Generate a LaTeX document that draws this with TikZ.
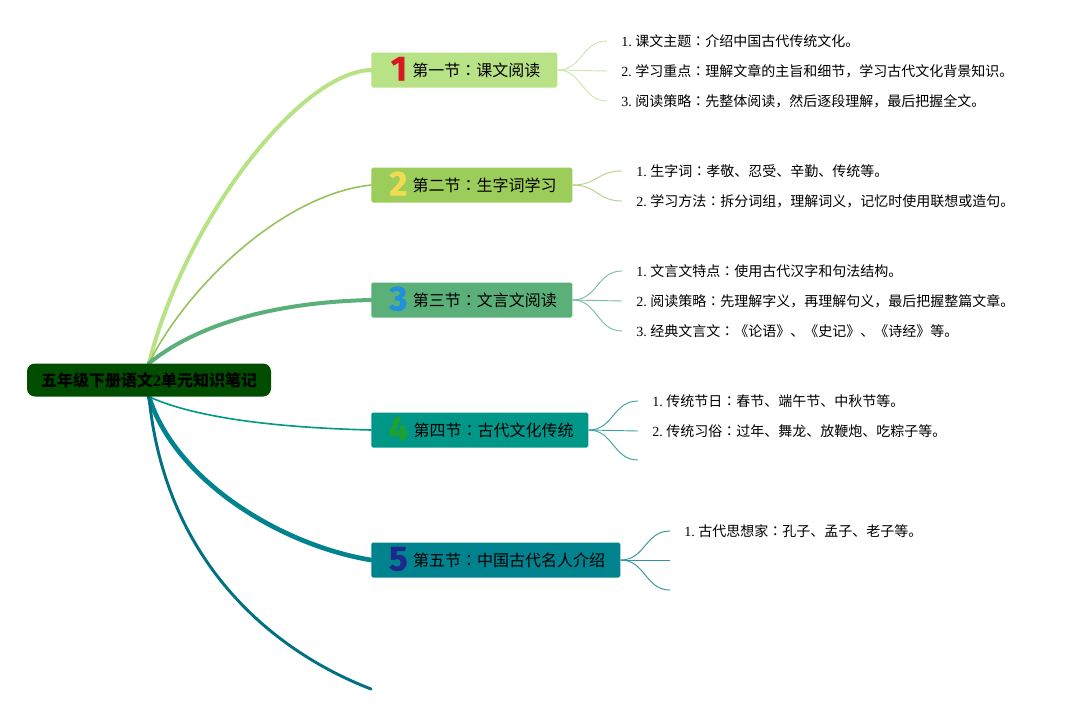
\documentclass[tikz,border=0pt]{standalone}
\usepackage{fontspec}
\usepackage{tikz}
\usetikzlibrary{backgrounds}
\setmainfont{Liberation Serif}
\newfontfamily\cjk{Noto Sans CJK SC}
\newfontfamily\cjktc{Noto Sans CJK TC}
\newfontfamily\numfont{Fira Sans}[BoldFeatures={FakeBold=1}]

\definecolor{rootgreen}{RGB}{0,77,0}
\definecolor{sec1}{RGB}{184,226,134}
\definecolor{sec2}{RGB}{156,204,90}
\definecolor{sec3}{RGB}{90,176,120}
\definecolor{sec4}{RGB}{0,150,136}
\definecolor{sec5}{RGB}{0,131,143}
\definecolor{tailc}{RGB}{0,112,130}
\definecolor{limb2}{RGB}{150,195,90}
\definecolor{tw1}{RGB}{205,230,170}
\definecolor{tw2}{RGB}{180,210,130}
\definecolor{tw3}{RGB}{120,190,160}
\definecolor{tw4}{RGB}{60,160,165}
\definecolor{tw5}{RGB}{50,145,160}
\definecolor{num1}{RGB}{215,25,35}
\definecolor{num2}{RGB}{240,220,80}
\definecolor{num3}{RGB}{30,144,220}
\definecolor{num4}{RGB}{30,160,50}
\definecolor{num5}{RGB}{30,40,140}

\newcommand{\secnum}[2]{\hspace{2pt}\smash{\raisebox{-3.2pt}{\numfont\bfseries\fontsize{26}{26}\selectfont\color{#1}#2}}\hspace{4pt}}
\newcommand{\zhcolon}{{\cjktc ：}}
\newcommand{\notepoint}[2]{#1.\ {\cjk #2}}

\tikzset{
  rootbox/.style={fill=rootgreen, rounded corners=6pt, minimum width=183pt, minimum height=24.75pt, inner sep=0pt, font=\fontsize{12}{14}\selectfont\bfseries},
  secbox/.style={anchor=west, rounded corners=1.2pt, minimum height=26.25pt, inner sep=0pt, font=\cjk\fontsize{12}{14}\selectfont},
  note/.style={anchor=west, inner xsep=10.5pt, inner ysep=0pt, font=\fontsize{10.5}{12}\selectfont},
  limb/.style={line cap=round},
  twig/.style={line width=0.7pt},
}

\begin{document}
\begin{tikzpicture}[x=0.75pt,y=0.75pt,yscale=-1,xscale=1]
\useasboundingbox (0,0) rectangle (1075,715);

% Root
\node [rootbox] (root) at (149,380) {{\cjk 五年级下册语文}2{\cjk 单元知识笔记}};

% Sections
\node [secbox, fill=sec1, minimum width=139.5pt] (s1) at (371,70) {\secnum{num1}{1}第一节\zhcolon 课文阅读};
\node [secbox, fill=sec2, minimum width=150.75pt] (s2) at (371,185) {\secnum{num2}{2}第二节\zhcolon 生字词学习};
\node [secbox, fill=sec3, minimum width=150.75pt] (s3) at (371,300) {\secnum{num3}{3}第三节\zhcolon 文言文阅读};
\node [secbox, fill=sec4, minimum width=162.75pt] (s4) at (371,430) {\secnum{num4}{4}第四节\zhcolon 古代文化传统};
\node [secbox, fill=sec5, minimum width=186.75pt] (s5) at (371,560) {\secnum{num5}{5}第五节\zhcolon 中国古代名人介绍};
\coordinate (tail) at (371,689);

% Notes
\node [note] (n11) at (607,41) {\notepoint{1}{课文主题\zhcolon 介绍中国古代传统文化。}};
\node [note] (n12) at (607,71) {\notepoint{2}{学习重点\zhcolon 理解文章的主旨和细节，学习古代文化背景知识。}};
\node [note] (n13) at (607,101) {\notepoint{3}{阅读策略\zhcolon 先整体阅读，然后逐段理解，最后把握全文。}};

\node [note] (n21) at (622,171) {\notepoint{1}{生字词\zhcolon 孝敬、忍受、辛勤、传统等。}};
\node [note] (n22) at (622,201) {\notepoint{2}{学习方法\zhcolon 拆分词组，理解词义，记忆时使用联想或造句。}};

\node [note] (n31) at (622,271) {\notepoint{1}{文言文特点\zhcolon 使用古代汉字和句法结构。}};
\node [note] (n32) at (622,301) {\notepoint{2}{阅读策略\zhcolon 先理解字义，再理解句义，最后把握整篇文章。}};
\node [note] (n33) at (622,331) {\notepoint{3}{经典文言文\zhcolon 《论语》、《史记》、《诗经》等。}};

\node [note] (n41) at (638,401) {\notepoint{1}{传统节日\zhcolon 春节、端午节、中秋节等。}};
\node [note] (n42) at (638,431) {\notepoint{2}{传统习俗\zhcolon 过年、舞龙、放鞭炮、吃粽子等。}};
\coordinate (n43) at (638,460);

\node [note] (n51) at (670,531) {\notepoint{1}{古代思想家\zhcolon 孔子、孟子、老子等。}};
\coordinate (n52) at (670,560);
\coordinate (n53) at (670,590);

\begin{scope}[on background layer]
% Limbs
\draw [limb, draw=sec1, line width=3pt] (root.north) .. controls (185,220) and (300,72) .. (s1.west);
\draw [limb, draw=limb2, line width=1.2pt] (root.north) .. controls (185,290) and (280,195) .. (s2.west);
\draw [limb, draw=sec3, line width=3pt] (root.north) .. controls (200,322) and (280,302) .. (s3.west);
\draw [limb, draw=sec4, line width=1.2pt] (root.south) .. controls (200,420) and (290,428) .. (s4.west);
\draw [limb, draw=sec5, line width=3.5pt] (root.south) .. controls (175,480) and (280,545) .. (s5.west);
\draw [limb, draw=tailc, line width=2.2pt] (root.south) .. controls (165,560) and (270,650) .. (tail);

% Twigs
\draw [twig, draw=tw1] (s1.east) .. controls +(25,0) and +(-25,0) .. (n11.west);
\draw [twig, draw=tw1] (s1.east) -- (n12.west);
\draw [twig, draw=tw1] (s1.east) .. controls +(25,0) and +(-25,0) .. (n13.west);
\draw [twig, draw=tw2] (s2.east) .. controls +(25,0) and +(-25,0) .. (n21.west);
\draw [twig, draw=tw2] (s2.east) .. controls +(25,0) and +(-25,0) .. (n22.west);
\draw [twig, draw=tw3] (s3.east) .. controls +(25,0) and +(-25,0) .. (n31.west);
\draw [twig, draw=tw3] (s3.east) -- (n32.west);
\draw [twig, draw=tw3] (s3.east) .. controls +(25,0) and +(-25,0) .. (n33.west);
\draw [twig, draw=tw4] (s4.east) .. controls +(25,0) and +(-25,0) .. (n41.west);
\draw [twig, draw=tw4] (s4.east) -- (n42.west);
\draw [twig, draw=tw4] (s4.east) .. controls +(25,0) and +(-25,0) .. (n43);
\draw [twig, draw=tw5] (s5.east) .. controls +(25,0) and +(-25,0) .. (n51.west);
\draw [twig, draw=tw5] (s5.east) -- (n52);
\draw [twig, draw=tw5] (s5.east) .. controls +(25,0) and +(-25,0) .. (n53);
\end{scope}

\end{tikzpicture}
\end{document}
